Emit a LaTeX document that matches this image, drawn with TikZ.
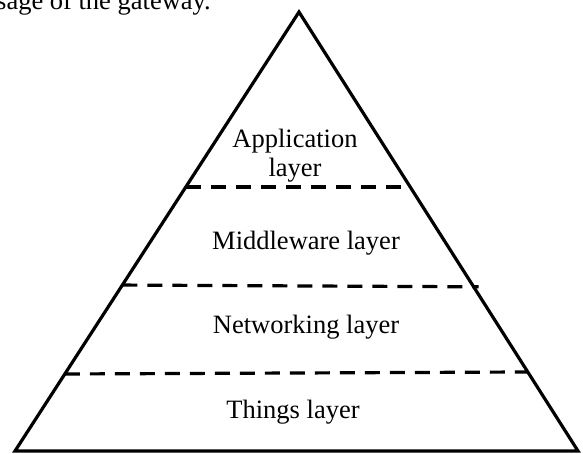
\documentclass[tikz,border=0pt]{standalone}
\usepackage{fontspec}
\setmainfont{Liberation Serif}
\usetikzlibrary{calc}
\newcommand{\layerfont}{\fontsize{26.5}{29}\selectfont}
\newcommand{\layerline}[3]{ \draw[line width=3.2pt, dash pattern=on 15pt off 10pt] ($(apex)!#1!(bl)$) -- ($(apex)!#2!(br) + (#3,0)$);}
\newcommand{\layerlabel}[4]{\node[font=\layerfont, anchor=base, inner sep=0pt] (#1) at ( #2 , #3 ) {#4};}

\begin{document}
\begin{tikzpicture}[x=1pt,y=1pt]
\useasboundingbox (0,0) rectangle (583,453);
\clip (0,0) rectangle (583,453);
% text running into the picture from above
\node[font=\layerfont, anchor=base west, inner sep=0pt] (caption) at (-4,443) {sage of the gateway.};
% pyramid outline
\coordinate (apex) at (299,441);
\coordinate (bl) at (15,2);
\coordinate (br) at (578,2);
\draw[line width=3.2pt, line join=miter] (apex) -- (br) -- (bl) -- cycle;
% layer borders
\layerline{0.3986}{0.3986}{0}
\layerline{0.622}{0.626}{5}
\layerline{0.8246}{0.820}{0}
% layer labels
\node[font=\layerfont, align=center, inner sep=0pt] (app) at (295,297.5) {Application\\layer};
\layerlabel{mid}{306}{204}{Middleware layer}
\layerlabel{net}{306}{120}{Networking layer}
\layerlabel{things}{293}{35}{Things layer}
\end{tikzpicture}
\end{document}
